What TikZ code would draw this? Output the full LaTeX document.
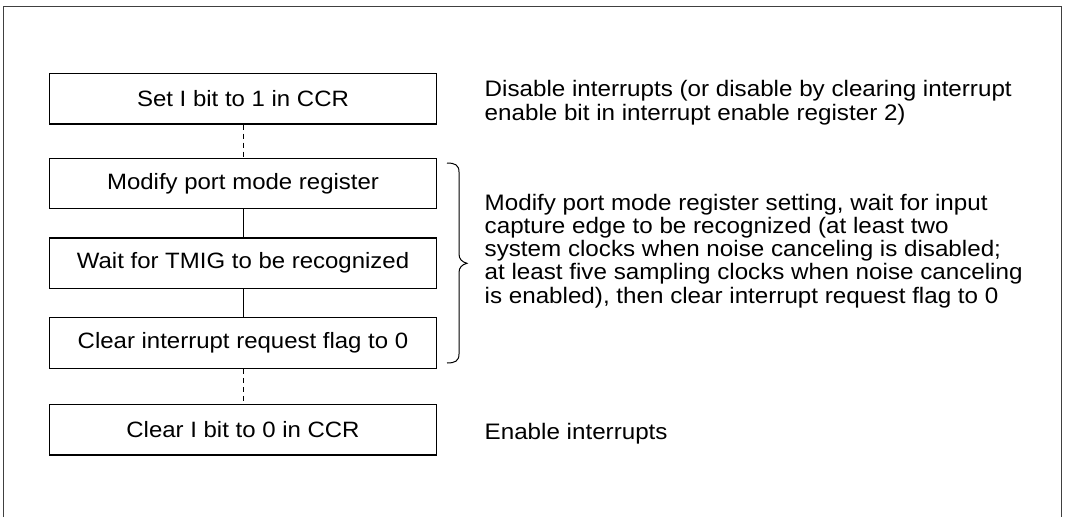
\documentclass[tikz,border=0pt]{standalone}
\usepackage{fontspec}
\setmainfont{Liberation Sans}[FakeStretch=1.08]
\begin{document}
\begin{tikzpicture}[x=1pt,y=-1pt,
  stepbox/.style={draw, line width=1.1pt, minimum width=387pt, minimum height=50.5pt, inner sep=0pt, font=\fontsize{22.2}{23}\selectfont},
  note/.style={anchor=base west, align=left, inner sep=0pt, font=\fontsize{22.4}{23.1}\selectfont},
  solidlink/.style={line width=1pt},
  dashlink/.style={line width=1pt, dash pattern=on 5pt off 4pt},
  frameline/.style={line width=1.4pt, black!75},
  bracestyle/.style={line width=1pt}
]
\useasboundingbox (0,0) rectangle (1065,517);
\draw[frameline] (3.5,517) -- (3.5,6.7) -- (1061.7,6.7) -- (1061.7,517);
\node[stepbox] (s1) at (243,98.75) {Set I bit to 1 in CCR};
\node[stepbox] (s2) at (243,183.5) {Modify port mode register};
\node[stepbox] (s3) at (243,263.25) {Wait for TMIG to be recognized};
\node[stepbox] (s4) at (243,343) {Clear interrupt request flag to 0};
\node[stepbox] (s5) at (243,429.75) {Clear I bit to 0 in CCR};
\draw[dashlink] (s1) -- (s2);
\draw[solidlink] (s2) -- (s3);
\draw[solidlink] (s3) -- (s4);
\draw[dashlink] (s4) -- (s5);
\draw[bracestyle] (447,163) .. controls (455,163) and (459,165) .. (459,172) -- (459,254) .. controls (459,259) and (462,262) .. (467,263.3) .. controls (462,264.5) and (459,267.5) .. (459,272.5) -- (459,354) .. controls (459,361) and (455,363) .. (447,363);
\node[note] (t1) at (484.5,120) {Disable interrupts (or disable by clearing interrupt\\enable bit in interrupt enable register 2)};
\node[note] (t2) at (484.5,303) {Modify port mode register setting, wait for input\\capture edge to be recognized (at least two\\system clocks when noise canceling is disabled;\\at least five sampling clocks when noise canceling\\is enabled), then clear interrupt request flag to 0};
\node[note] (t3) at (484.5,439.5) {Enable interrupts};
\end{tikzpicture}
\end{document}
